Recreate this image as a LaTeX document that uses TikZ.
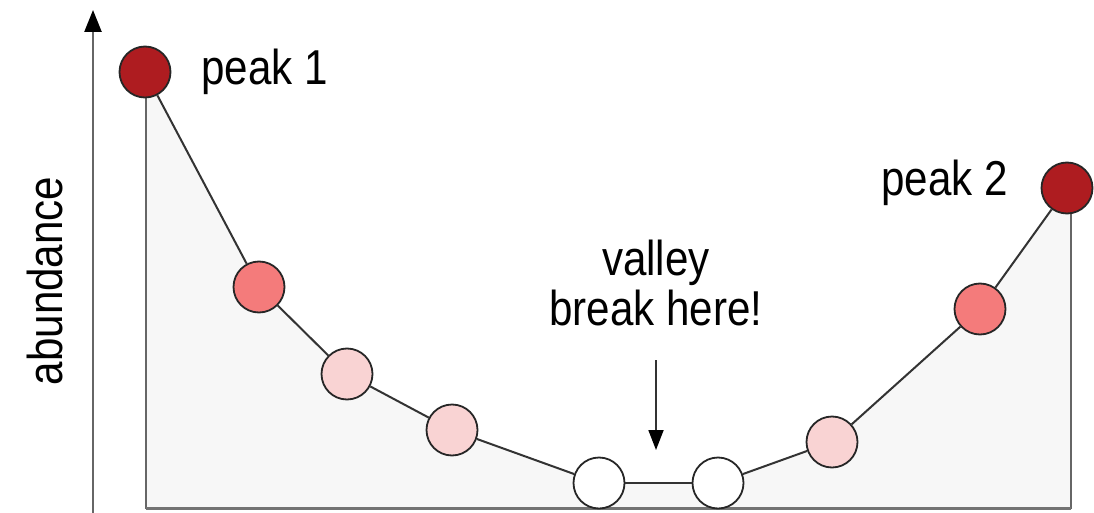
\documentclass[tikz,border=0pt]{standalone}
\usepackage{fontspec}
\setmainfont{Liberation Sans}
\usetikzlibrary{arrows.meta,backgrounds}
\definecolor{peakred}{HTML}{AE1C20}
\definecolor{midred}{HTML}{F47B7B}
\definecolor{palered}{HTML}{F9D3D3}
\definecolor{areagray}{HTML}{F7F7F7}
\newcommand{\narrow}[1]{\scalebox{0.86}[1]{#1}}

\begin{document}
\begin{tikzpicture}[x=1pt,y=-1pt,
  dot/.style={draw=black!85, circle, line width=1.8pt, minimum size=51pt, inner sep=0pt},
  lnk/.style={draw=black!80, line width=2pt},
  lbl/.style={font=\fontsize{49}{50}\selectfont, inner sep=0pt}]
\useasboundingbox (0,0) rectangle (1094,513);
\node[dot, fill=peakred] (P1) at (145,72) {};
\node[dot, fill=midred] (A) at (259,287) {};
\node[dot, fill=palered] (B) at (347,374) {};
\node[dot, fill=palered] (C) at (452,430) {};
\node[dot, fill=white] (V1) at (599,483) {};
\node[dot, fill=white] (V2) at (718,483) {};
\node[dot, fill=palered] (D) at (832,442) {};
\node[dot, fill=midred] (E) at (980,309) {};
\node[dot, fill=peakred] (P2) at (1067,188) {};
\draw[lnk] (P1) -- (A); \draw[lnk] (A) -- (B);
\draw[lnk] (B) -- (C); \draw[lnk] (C) -- (V1);
\draw[lnk] (V1) -- (V2); \draw[lnk] (V2) -- (D);
\draw[lnk] (D) -- (E); \draw[lnk] (E) -- (P2);
\begin{scope}[on background layer]
\fill[areagray] (P1.center) -- (A.center) -- (B.center) -- (C.center)
  -- (V1.center) -- (V2.center) -- (D.center) -- (E.center) -- (P2.center)
  -- (1071,188) -- (1071,508) -- (146,508) -- cycle;
\draw[black!60, line width=1.8pt] (146,72) -- (146,508) -- (1071,508) -- (1071,188);
\draw[black!55, line width=3pt] (146,508) -- (1071,508);
\end{scope}
\coordinate (O) at (93,513);
\coordinate (Ytop) at (93,10);
\draw[black!60, line width=2.5pt, -{Triangle[length=22pt,width=17pt,color=black]}] (O) -- (Ytop);
\node[lbl, rotate=90] (ab) at (45,281) {\narrow{abundance}};
\node[lbl, anchor=base west] (t1) at (201,85) {\narrow{peak 1}};
\node[lbl, anchor=base west] (t2) at (881,195) {\narrow{peak 2}};
\node[lbl, align=center] (vb) at (656,283) {\narrow{valley}\\\narrow{break here!}};
\coordinate (brk) at (656,360);
\coordinate (brkend) at (656,450);
\draw[black!80, line width=1.8pt, -{Triangle[length=20pt,width=15pt,color=black]}] (brk) -- (brkend);
\end{tikzpicture}
\end{document}
